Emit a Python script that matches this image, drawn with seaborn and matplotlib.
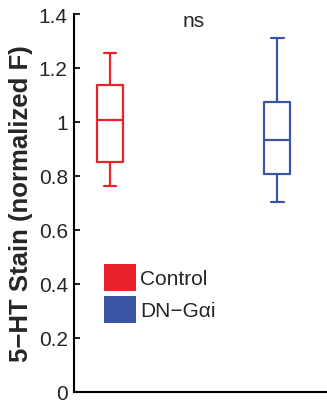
import matplotlib
matplotlib.use("Agg")
import matplotlib.pyplot as plt
from matplotlib.patches import Patch
import numpy as np
import pandas as pd
import seaborn as sns

# Five-number summaries per group (low whisker, Q1, median, Q3, high whisker)
groups = ["Control", "DN\u2212G\u03b1i"]
control_vals = [0.763, 0.852, 1.007, 1.137, 1.255]
dn_gai_vals = [0.705, 0.807, 0.933, 1.074, 1.311]
colors = ["#E8232B", "#3A55A4"]
y_ticks = [0, 0.2, 0.4, 0.6, 0.8, 1, 1.2, 1.4]
y_tick_labels = ["0", "0.2", "0.4", "0.6", "0.8", "1", "1.2", "1.4"]

df = pd.DataFrame({
    "group": [groups[0]] * len(control_vals) + [groups[1]] * len(dn_gai_vals),
    "value": control_vals + dn_gai_vals,
})

sns.set_style("white")
plt.rcParams["font.family"] = ["Liberation Sans", "DejaVu Sans"]

fig = plt.figure(figsize=(3.27, 4.02), dpi=100)
ax = fig.add_axes([74 / 327, 9 / 402, 253 / 327, 378 / 402])

for i, (g, c) in enumerate(zip(groups, colors)):
    sub = df[df["group"] == g]
    sns.boxplot(
        x=[i] * len(sub), y=sub["value"].values, native_scale=True,
        width=0.155, whis=1.5, ax=ax, fill=False, color=c, linewidth=1.6,
        showfliers=False,
        boxprops=dict(color=c), whiskerprops=dict(color=c),
        capprops=dict(color=c), medianprops=dict(color=c),
    )

ax.set_xlim(-0.215, 1.296)
ax.set_ylim(0, 1.4)
ax.set_yticks(y_ticks)
ax.set_yticklabels(y_tick_labels)
ax.set_xticks([])
ax.set_xlabel("")
ax.set_ylabel("5\u2212HT Stain (normalized F)", fontsize=18.5, fontweight="bold", labelpad=4)
ax.tick_params(axis="y", direction="in", length=4, width=1.5, labelsize=15, pad=4.5, left=True)

for s in ["top", "right"]:
    ax.spines[s].set_visible(False)
for s in ["left", "bottom"]:
    ax.spines[s].set_color("black")
    ax.spines[s].set_linewidth(1.5)

ax.text(0.473, 0.968, "ns", transform=ax.transAxes, ha="center", va="baseline", fontsize=15)

handles = [Patch(facecolor=c, edgecolor="none", label=g) for g, c in zip(groups, colors)]
ax.legend(handles=handles, loc="upper left", bbox_to_anchor=(0.119, 0.339),
          frameon=False, fontsize=15, borderpad=0, borderaxespad=0,
          handlelength=1.54, handleheight=1.62, handletextpad=0.2, labelspacing=0.24)

fig.savefig("out.png", dpi=100)
